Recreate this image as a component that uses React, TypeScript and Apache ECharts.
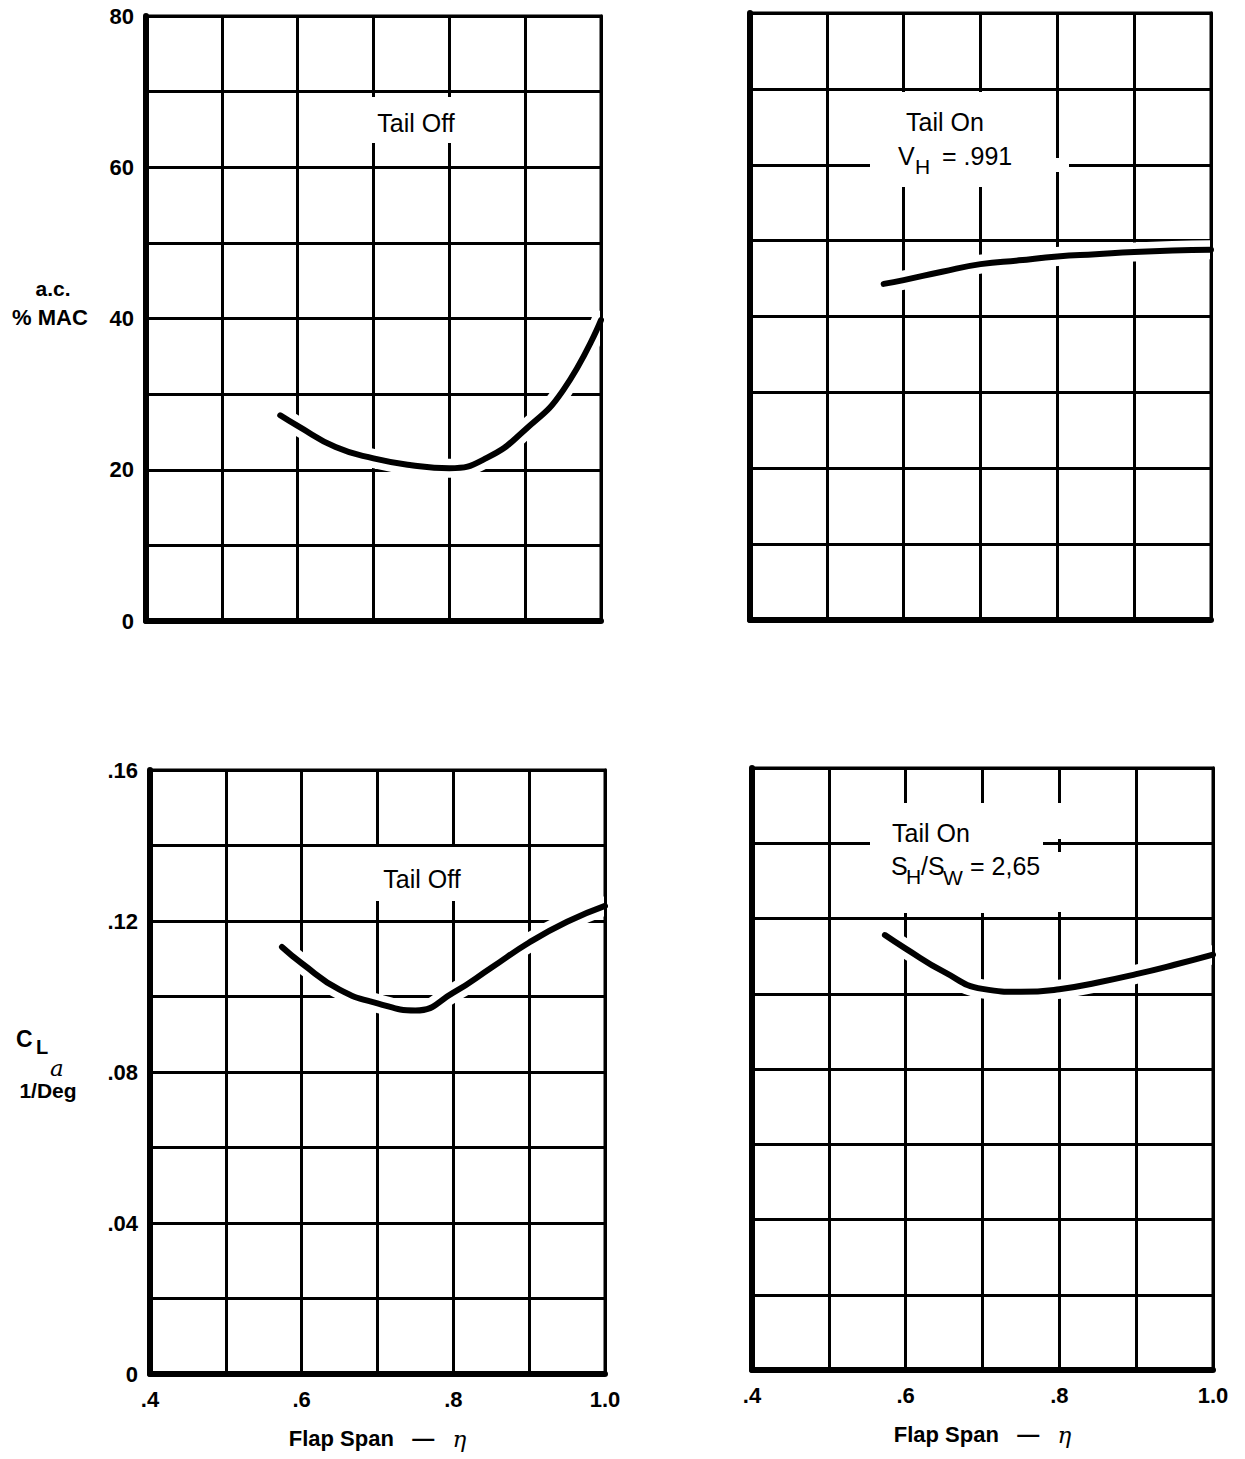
import React, { useEffect, useRef } from "react";
import * as echarts from "echarts";

// Flap span stations (eta) and curve values for each panel
const acTailOffX = [0.577, 0.6, 0.65, 0.7, 0.75, 0.8, 0.85, 0.9, 0.95, 1.0];
const acTailOffY = [27.2, 25.8, 23.0, 21.5, 20.6, 20.2, 21.6, 25.3, 30.5, 39.8];

const acTailOnX = [0.574, 0.6, 0.65, 0.7, 0.75, 0.8, 0.85, 0.9, 0.95, 1.0];
const acTailOnY = [44.3, 44.8, 45.9, 46.9, 47.4, 47.9, 48.2, 48.5, 48.7, 48.8];

const clTailOffX = [0.574, 0.6, 0.65, 0.7, 0.75, 0.8, 0.85, 0.9, 0.95, 1.0];
const clTailOffY = [0.1131, 0.1088, 0.1018, 0.0982, 0.0963, 0.101, 0.1076, 0.1143, 0.1198, 0.124];

const clTailOnX = [0.573, 0.6, 0.65, 0.7, 0.75, 0.8, 0.85, 0.9, 0.95, 1.0];
const clTailOnY = [0.1156, 0.112, 0.1058, 0.1013, 0.1005, 0.1012, 0.103, 0.1052, 0.1077, 0.1104];

const xTickLabels: Record<number, string> = { 4: ".4", 6: ".6", 8: ".8", 10: "1.0" };
const acTickLabels = [0, 20, 40, 60, 80];
const clTickLabels: Record<number, string> = { 0: "0", 4: ".04", 8: ".08", 12: ".12", 16: ".16" };

const FONT = "'Liberation Sans', Arial, Helvetica, sans-serif";
const INK = "#000";

const pairs = (xs: number[], ys: number[]) => xs.map((x, i) => [x, ys[i]]);

export default function App() {
  const ref = useRef<HTMLDivElement>(null);

  useEffect(() => {
    document.body.style.margin = "0";
    if (!ref.current) return;
    const chart = echarts.init(ref.current, undefined, { renderer: "svg" });

    const grids = [
      { left: 146, top: 16, width: 455, height: 605 },
      { left: 750, top: 13, width: 461, height: 607 },
      { left: 150, top: 770, width: 455, height: 604 },
      { left: 752, top: 768, width: 461, height: 602 },
    ];

    const gridLine = { show: true, lineStyle: { color: INK, width: 3 } };

    const xAxes = grids.map((_, i) => {
      const bottomRow = i >= 2;
      return {
        type: "value",
        gridIndex: i,
        min: 0.4,
        max: 1.0,
        interval: 0.1,
        axisLine: { show: true, onZero: false, lineStyle: { color: INK, width: 6 } },
        axisTick: { show: false },
        splitLine: gridLine,
        axisLabel: {
          show: bottomRow,
          margin: 14,
          color: INK,
          fontFamily: FONT,
          fontWeight: "bold",
          fontSize: 22,
          formatter: (v: number) => xTickLabels[Math.round(v * 10)] ?? "",
        },
        name: bottomRow ? "{t|Flap Span   \u2014   }{e|\u03b7}" : "",
        nameLocation: "middle",
        nameGap: 53,
        nameTextStyle: {
          rich: {
            t: { fontFamily: FONT, fontWeight: "bold", fontSize: 22, color: INK },
            e: { fontFamily: "'DejaVu Serif', serif", fontStyle: "italic", fontSize: 23, color: INK },
          },
        },
      };
    });

    const yAxes: any[] = grids.map((_, i) => {
      const isAc = i < 2;
      const leftCol = i % 2 === 0;
      return {
        type: "value",
        gridIndex: i,
        min: 0,
        max: isAc ? 80 : 0.16,
        interval: isAc ? 10 : 0.02,
        axisLine: { show: true, lineStyle: { color: INK, width: 6 } },
        axisTick: { show: false },
        splitLine: gridLine,
        axisLabel: {
          show: leftCol,
          margin: 12,
          color: INK,
          fontFamily: FONT,
          fontWeight: "bold",
          fontSize: 22,
          formatter: (v: number) =>
            isAc
              ? acTickLabels.includes(Math.round(v)) ? String(Math.round(v)) : ""
              : clTickLabels[Math.round(v * 100)] ?? "",
        },
      };
    });

    // right-hand frame edge drawn above the curves
    grids.forEach((_, i) => {
      yAxes.push({
        type: "value",
        gridIndex: i,
        position: "right",
        min: 0,
        max: 1,
        z: 10,
        axisLine: { show: true, lineStyle: { color: INK, width: 3 } },
        axisTick: { show: false },
        axisLabel: { show: false },
        splitLine: { show: false },
      });
    });

    const curves = [
      pairs(acTailOffX, acTailOffY),
      pairs(acTailOnX, acTailOnY),
      pairs(clTailOffX, clTailOffY),
      pairs(clTailOnX, clTailOnY),
    ];

    const series: any[] = [];
    curves.forEach((data, i) => {
      const base = {
        type: "line",
        xAxisIndex: i,
        yAxisIndex: i,
        data,
        smooth: 0.5,
        showSymbol: false,
        silent: true,
      };
      // white casing that opens the grid lines around the curve
      series.push({ ...base, z: 3, lineStyle: { color: "#fff", width: 19, cap: "round" } });
      series.push({ ...base, z: 4, lineStyle: { color: INK, width: 6, cap: "round" } });
    });

    const box = (x: number, y: number, w: number, h: number) => ({
      type: "rect",
      z: 20,
      shape: { x, y, width: w, height: h },
      style: { fill: "#fff" },
    });
    const txt = (x: number, y: number, text: string, size = 22, extra: any = {}) => ({
      type: "text",
      z: 21,
      x,
      y,
      style: {
        text,
        fill: INK,
        font: `${extra.weight || "normal"} ${size}px ${extra.family || FONT}`,
        align: extra.align || "left",
        verticalAlign: "middle",
      },
    });

    const graphics = [
      // Tail Off (a.c.)
      box(308, 97, 214, 46),
      txt(416, 123, "Tail Off", 25, { align: "center" }),
      // Tail On, V_H
      box(870, 92, 180, 95),
      box(1050, 158, 19, 14),
      txt(906, 122, "Tail On", 25),
      txt(898, 156, "V", 25),
      txt(915, 166, "H", 21),
      txt(942, 156, "= .991", 25),
      // Tail Off (C_L alpha)
      box(310, 847, 215, 54),
      txt(422, 879, "Tail Off", 25, { align: "center" }),
      // Tail On, S_H/S_W
      box(870, 803, 173, 110),
      box(1048, 803, 18, 36),
      box(1048, 852, 18, 60),
      txt(892, 833, "Tail On", 25),
      txt(891, 866, "S", 25),
      txt(906, 876, "H", 21),
      txt(921, 866, "/S", 25),
      txt(943, 877, "W", 21),
      txt(970, 866, "= 2,65", 25),
      // y-axis titles
      txt(53, 288, "a.c.", 21, { align: "center", weight: "bold" }),
      txt(50, 317, "% MAC", 22, { align: "center", weight: "bold" }),
      txt(16, 1039, "C", 23, { weight: "bold" }),
      txt(36, 1047, "L", 20, { weight: "bold" }),
      txt(50, 1068, "a", 23, { family: "'DejaVu Serif', serif", weight: "italic" }),
      txt(48, 1090, "1/Deg", 21, { align: "center", weight: "bold" }),
    ];

    chart.setOption({
      animation: false,
      backgroundColor: "#fff",
      grid: grids.map((g) => ({
        ...g,
        show: true,
        borderColor: INK,
        borderWidth: 3,
        backgroundColor: "transparent",
      })),
      xAxis: xAxes,
      yAxis: yAxes,
      series,
      graphic: { elements: graphics },
    });

    return () => chart.dispose();
  }, []);

  return <div ref={ref} style={{ width: 1245, height: 1459 }} />;
}
